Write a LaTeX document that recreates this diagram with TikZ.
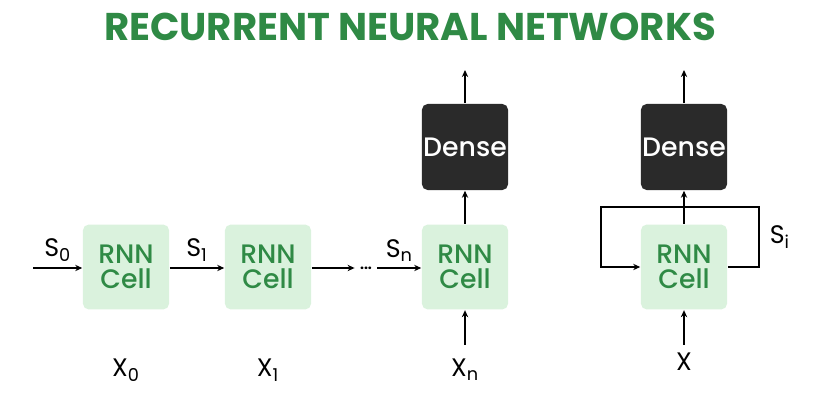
\documentclass[tikz,border=0pt]{standalone}
\usepackage{fontspec}
\setmainfont{Poppins}
\newfontfamily\medfont{Poppins Medium}
\usetikzlibrary{arrows.meta}
\definecolor{gfggreen}{HTML}{2F8A45}
\definecolor{cellfill}{HTML}{DAF2DD}
\definecolor{densefill}{HTML}{2A2A2A}

\begin{document}
\begin{tikzpicture}[x=0.025cm, y=-0.025cm,
        cell/.style={fill=cellfill, rounded corners=4pt, minimum width=2.15cm, minimum height=2.12cm,
            align=center, text=gfggreen, font=\medfont\fontsize{19}{19}\selectfont, inner sep=0pt},
        dense/.style={fill=densefill, rounded corners=4pt, minimum width=2.15cm, minimum height=2.15cm,
            text=white, font=\medfont\fontsize{19}{19}\selectfont, inner sep=0pt},
        lbl/.style={font=\fontsize{18}{18}\selectfont},
        every path/.style={line width=1.1pt},
        >={Stealth[length=5pt,width=4.5pt]}]
        \useasboundingbox (0,0) rectangle (824,412);
        \node[font=\fontsize{27.5}{27.5}\selectfont\bfseries, text=gfggreen] (T) at (410,27) {RECURRENT NEURAL NETWORKS};
        % unrolled cells
        \node[cell] (A) at (126,267) {RNN\\[-1pt]Cell};
        \node[cell] (B) at (268,267) {RNN\\[-1pt]Cell};
        \node[cell] (C) at (465,267) {RNN\\[-1pt]Cell};
        \node[dense] (D) at (465,147) {Dense};
        \node (dots) at (366,268) {\textbf{...}};
        % folded cell
        \node[cell] (E) at (684,267) {RNN\\[-1pt]Cell};
        \node[dense] (F) at (684,147) {Dense};
        % inputs
        \node[lbl] (X0) at (126,370) {X\textsubscript{0}};
        \node[lbl] (X1) at (268,370) {X\textsubscript{1}};
        \node[lbl] (Xn) at (465,370) {X\textsubscript{n}};
        \node[lbl] (Xi) at (684,362) {X};
        \coordinate (in0) at (33,268);
        \coordinate (inC) at (465,345);
        \coordinate (inE) at (684,345);
        \coordinate (outD) at (465,70);
        \coordinate (outF) at (684,70);
        \draw[->] (in0) -- (A.west |- in0) node[lbl, midway, above=1pt] {S\textsubscript{0}};
        \draw[->] (A.east |- in0) -- (B.west |- in0) node[lbl, midway, above=1pt] {S\textsubscript{1}};
        \draw[->] (B.east |- in0) -- (dots.west);
        \draw[->] (dots.east) -- (C.west |- in0) node[lbl, midway, above=1pt] {S\textsubscript{n}};
        \draw[->] (inC) -- (C);
        \draw[->] (C) -- (D);
        \draw[->] (D) -- (outD);
        \draw[->] (inE) -- (E);
        \draw[->] (E) -- (F);
        \draw[->] (F) -- (outF);
        % loop
        \draw[->] (E.east) -- ++(31,0) -- ++(0,-60) node[lbl, midway, right=4pt] {S\textsubscript{i}}
            -- ++(-158,0) -- ++(0,60) -- (E.west);
    \end{tikzpicture}
\end{document}
